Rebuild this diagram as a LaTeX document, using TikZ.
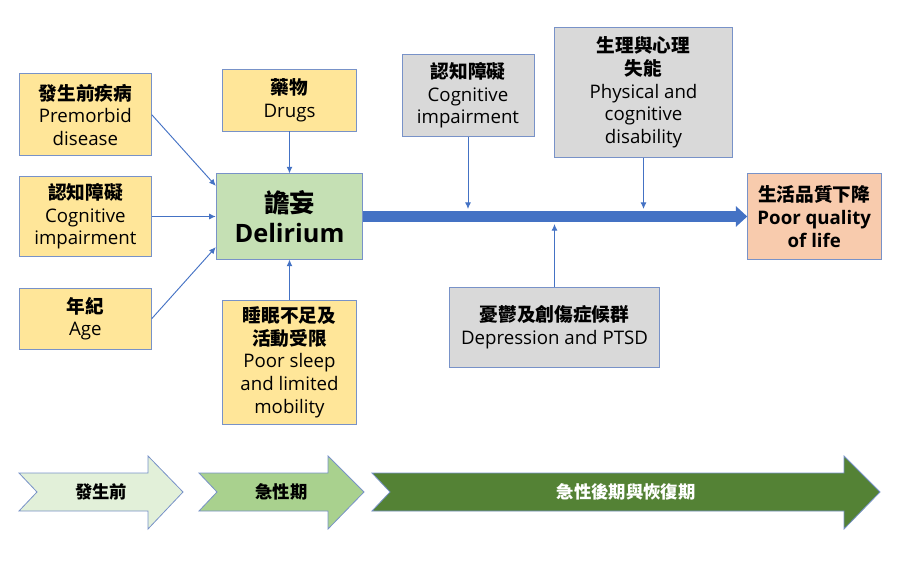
\documentclass[tikz,border=0pt]{standalone}
\usepackage{fontspec}
\setmainfont{Open Sans}
\newfontfamily\cjk{Noto Sans CJK TC}
\usetikzlibrary{positioning, arrows.meta, calc}

\definecolor{edgeblue}{RGB}{120,146,200}
\definecolor{flowblue}{RGB}{68,114,196}
\definecolor{causefill}{RGB}{255,230,153}
\definecolor{delfill}{RGB}{197,224,180}
\definecolor{grayfill}{RGB}{217,217,217}
\definecolor{qolfill}{RGB}{248,203,173}
\definecolor{phaseA}{RGB}{226,240,217}
\definecolor{phaseB}{RGB}{169,209,142}
\definecolor{phaseC}{RGB}{84,130,53}

\newcommand{\zh}[1]{{\cjk\bfseries #1}}

\begin{document}
\begin{tikzpicture}[x=0.75pt, y=-0.75pt, >=Latex]

\tikzset{
  box/.style={
    rectangle, draw=edgeblue, line width=0.6pt,
    align=center, inner sep=2pt,
    font=\fontsize{14}{17}\selectfont
  },
  cause/.style={box, fill=causefill, minimum width=99pt},
  later/.style={box, fill=grayfill},
  link/.style={-{Latex[length=5pt,width=4.5pt]}, draw=flowblue, line width=0.7pt},
  mainflow/.style={-{Triangle[length=8.5pt,width=15pt]}, draw=flowblue, line width=8.5pt},
  phase/.style={draw=edgeblue, line width=0.6pt},
  phaselabel/.style={font=\fontsize{13}{15}\selectfont}
}

\useasboundingbox (0,0) rectangle (898,563);

% ==========================
% Delirium and its causes
% ==========================
\node[box, fill=delfill, minimum width=110pt, minimum height=64pt,
      font=\fontsize{19}{23}\selectfont\bfseries] (del) at (289.5,216.5) {\zh{譫妄}\\Delirium};

\node[cause, minimum height=60pt, left=48pt of del] (cogL) {\zh{認知障礙}\\Cognitive\\impairment};
\node[cause, minimum height=61.5pt, above=15pt of cogL] (pre) {\zh{發生前疾病}\\Premorbid\\disease};
\node[cause, minimum height=46pt, below=23pt of cogL] (age) {\zh{年紀}\\Age};
\node[cause, minimum width=100pt, minimum height=46pt, above=31.5pt of del] (drug) {\zh{藥物}\\Drugs};
\node[cause, minimum width=100pt, minimum height=93pt, below=30pt of del] (sleep)
  {\zh{睡眠不足及}\\\zh{活動受限}\\Poor sleep\\and limited\\mobility};

\draw[link] (pre.east) -- ([yshift=23pt]del.west);
\draw[link] (cogL) -- (del);
\draw[link] (age.east) -- ([yshift=-23pt]del.west);
\draw[link] (drug) -- (del);
\draw[link] (sleep) -- (del);

% ==========================
% Outcome and later factors
% ==========================
\node[box, fill=qolfill, minimum width=100pt, minimum height=64pt, right=288pt of del,
      font=\fontsize{14}{17}\selectfont\bfseries] (qol) {\zh{生活品質下降}\\Poor quality\\of life};

\node[later, minimum width=99pt, minimum height=61pt] (cogR) at (468,95.5) {\zh{認知障礙}\\Cognitive\\impairment};
\node[later, minimum width=133pt, minimum height=97pt] (phys) at (643.5,92.5)
  {\zh{生理與心理}\\\zh{失能}\\Physical and\\cognitive\\disability};
\node[later, minimum width=157pt, minimum height=60pt] (depr) at (554.5,327)
  {\zh{憂鬱及創傷症候群}\\Depression and PTSD};

\coordinate (hitA) at (468,209);
\coordinate (hitB) at (643.5,209);
\coordinate (hitC) at (554.5,224);

\draw[mainflow] (del) -- (qol);
\draw[link] (cogR) -- (hitA);
\draw[link] (phys) -- (hitB);
\draw[link] (depr) -- (hitC);

% ==========================
% Phases (bottom row)
% ==========================
\foreach \xl/\xn/\xs/\xt/\col/\tcol/\lab [count=\i] in
  {19/37/148/183/phaseA/black/發生前,
   199/217/328/364/phaseB/black/急性期,
   372/390/844/880/phaseC/white/急性後期與恢復期} {
  \draw[phase, fill=\col] (\xl,473) -- (\xs,473) -- (\xs,456) -- (\xt,492)
    -- (\xs,529) -- (\xs,511) -- (\xl,511) -- (\xn,492) -- cycle;
  \node[phaselabel, text=\tcol] (phase\i) at ({(\xl+\xt)/2},492) {\zh{\lab}};
}

\end{tikzpicture}
\end{document}
